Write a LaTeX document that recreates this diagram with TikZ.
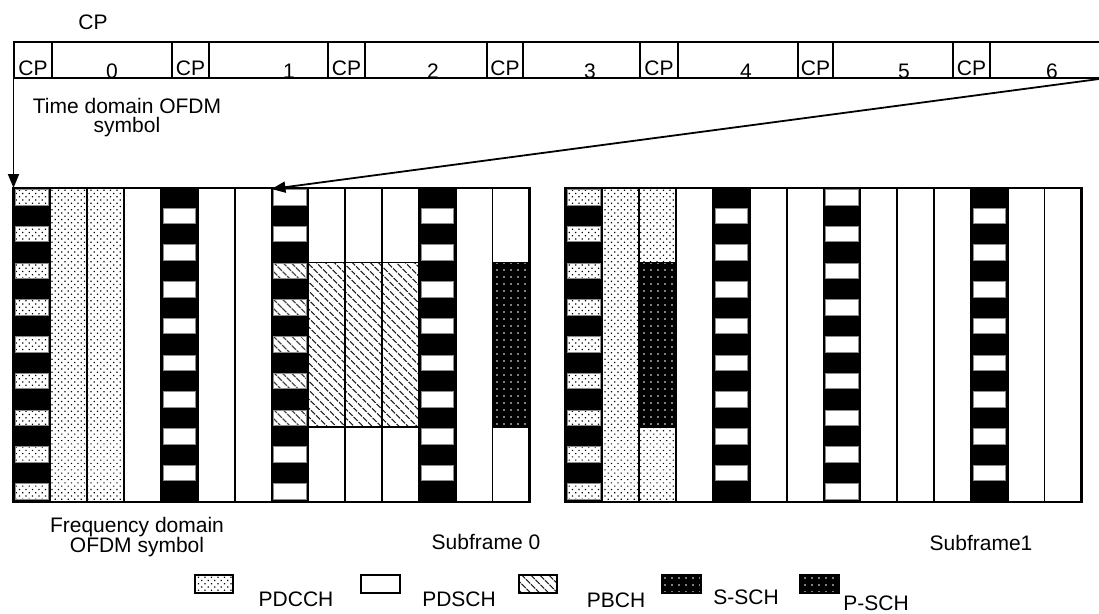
\documentclass[tikz,border=0pt]{standalone}
\usepackage{fontspec}
\setmainfont{Liberation Sans}
\usetikzlibrary{arrows.meta,patterns.meta}

\tikzset{
  pdcch/.style={preaction={fill=white}, pattern={Dots[angle=45,distance=4.6pt,radius=0.85pt]}, pattern color=black},
  pbch/.style={preaction={fill=white}, pattern={Lines[angle=-45,distance=6.5pt,line width=1.4pt]}, pattern color=black!85},
  sch/.style={preaction={fill=black}, pattern={Dots[distance=7pt,radius=0.9pt]}, pattern color=white},
  cellline/.style={draw=black, line width=1.8pt},
  rsbox/.style={draw=black!45, line width=0.6pt},
  lbl/.style={font=\fontsize{21}{19}\selectfont, inner sep=0pt, align=center},
  arr/.style={line width=1.8pt, -{Triangle[length=14pt,width=11pt]}},
}

\begin{document}
\begin{tikzpicture}[x=1pt,y=-1pt]
    \useasboundingbox (0,0) rectangle (1099,613);
    \def\cw{36.85}

    % Time domain symbols
    \node[lbl] (cptitle) at (93,22) {CP};
    \foreach \cs/\ss/\se/\n/\nx in {14/52/172/0/112, 172/209/328/1/289, 328/365/487/2/433,
        487/523/640/3/590, 640/678/798/4/746, 798/833/953/5/904, 953/990/1110/6/1052} {
        \draw[cellline] (\cs,42) rectangle (\ss,78);
        \draw[cellline] (\ss,42) rectangle (\se,78);
        \node[lbl] (cp\n) at ({(\cs+\ss)/2},68) {CP};
        \node[lbl] (sym\n) at (\nx,71) {\n};
    }
    \node[lbl] (timelbl) at (127,118) {Time domain OFDM\\symbol};

    % Subframe fills
    \foreach \ox in {13.5,565.5} {
        \fill[pdcch] ({\ox+\cw},188) rectangle ({\ox+3*\cw},502);
        \foreach \c in {0,4,7,11}
            \fill[black] ({\ox+\c*\cw},188) rectangle ({\ox+(\c+1)*\cw},502);
        \foreach \k in {0,...,8} {
            \filldraw[pdcch, rsbox] ({\ox+2},{189.5+\k*36.75}) rectangle ({\ox+\cw-2},{205+\k*36.75});
            \filldraw[fill=white, rsbox] ({\ox+7*\cw+2},{189.5+\k*36.75}) rectangle ({\ox+8*\cw-2},{205+\k*36.75});
        }
        \foreach \c in {4,11}
            \foreach \k in {0,...,7}
                \filldraw[fill=white, rsbox] ({\ox+\c*\cw+2},{208+\k*36.75}) rectangle ({\ox+(\c+1)*\cw-2},{223.5+\k*36.75});
    }

    % Subframe 0: PBCH and SCH
    \foreach \k in {2,...,6}
        \filldraw[pbch, rsbox] ({13.5+7*\cw+2},{189.5+\k*36.75}) rectangle ({13.5+8*\cw-2},{205+\k*36.75});
    \filldraw[pbch, cellline] ({13.5+8*\cw},262.5) rectangle ({13.5+11*\cw},427);
    \filldraw[sch, cellline] ({13.5+13*\cw},262.5) rectangle ({13.5+14*\cw},427);

    % Subframe 1: SCH
    \filldraw[sch, cellline] ({565.5+2*\cw},262.5) rectangle ({565.5+3*\cw},427);

    % Grid lines
    \foreach \ox in {13.5,565.5} {
        \foreach \c in {1,...,13}
            \draw[cellline] ({\ox+\c*\cw},188) -- ({\ox+\c*\cw},502);
        \draw[cellline, line width=2.2pt] (\ox,188) rectangle ({\ox+14*\cw},502);
    }

    % Arrows
    \coordinate (barleft) at (13.5,78);
    \coordinate (gridtl) at (13.5,188);
    \coordinate (barright) at (1099,79);
    \coordinate (col7top) at ({13.5+7*\cw},189);
    \draw[arr] (barleft) -- (gridtl);
    \draw[arr] (barright) -- (col7top);

    % Labels
    \node[lbl] (freqlbl) at (137,537) {Frequency domain\\OFDM symbol};
    \node[lbl] (sub0) at (486,542) {Subframe 0};
    \node[lbl] (sub1) at (981,543) {Subframe1};

    % Legend
    \filldraw[pdcch, cellline] (195,575) rectangle (233,593);
    \filldraw[fill=white, cellline] (361,575) rectangle (400,593);
    \filldraw[pbch, cellline] (519,575) rectangle (557,593);
    \filldraw[sch, cellline] (662,575) rectangle (701,593);
    \filldraw[sch, cellline] (800,575) rectangle (839,593);
    \node[lbl] (legpdcch) at (296,599) {PDCCH};
    \node[lbl] (legpdsch) at (459,599) {PDSCH};
    \node[lbl] (legpbch) at (616,600) {PBCH};
    \node[lbl] (legssch) at (746,597) {S-SCH};
    \node[lbl] (legpsch) at (876,603) {P-SCH};
\end{tikzpicture}
\end{document}
